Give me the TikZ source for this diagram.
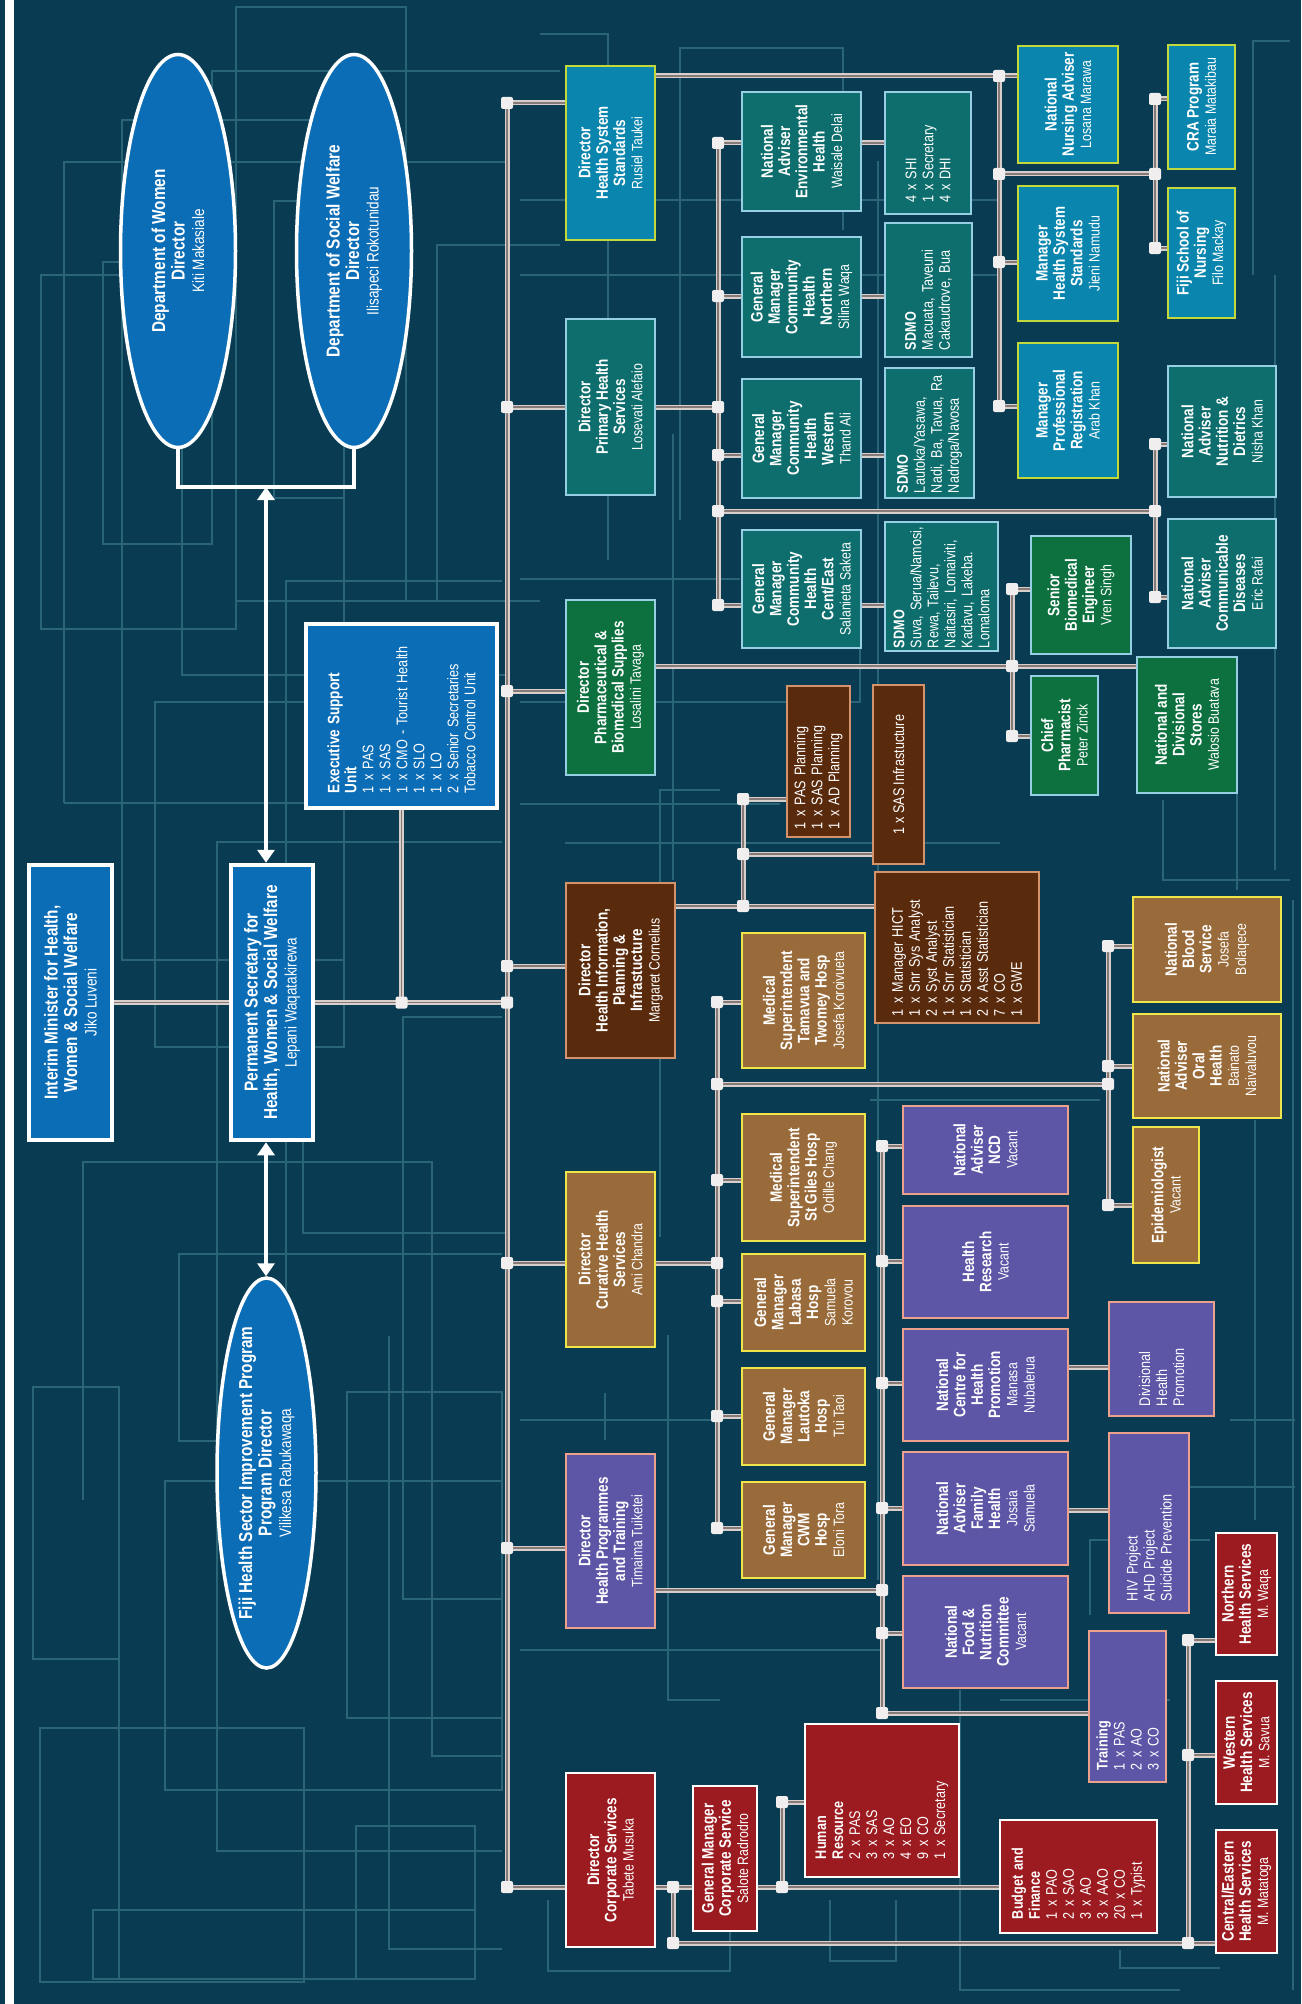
\documentclass[tikz,border=0pt]{standalone}
\usepackage{fontspec}
\setmainfont{Liberation Sans}[FakeStretch=0.82]
\usetikzlibrary{shapes.geometric,arrows.meta}
\pgfdeclarelayer{back}
\pgfdeclarelayer{wires}
\pgfsetlayers{back,wires,main}
\definecolor{bgc}{HTML}{093B52}
\definecolor{gridc}{HTML}{2A6477}
\definecolor{topF}{HTML}{0B6DB6}
\definecolor{hssF}{HTML}{0A86AE}
\definecolor{hssB}{HTML}{C3D83A}
\definecolor{phsF}{HTML}{0D6E6D}
\definecolor{phsB}{HTML}{96CFE3}
\definecolor{phaF}{HTML}{0C713F}
\definecolor{hipF}{HTML}{5A2A0C}
\definecolor{hipB}{HTML}{D4936A}
\definecolor{curF}{HTML}{9A6B3A}
\definecolor{curB}{HTML}{EDE54A}
\definecolor{hptF}{HTML}{5D55A6}
\definecolor{hptB}{HTML}{EDA08C}
\definecolor{corF}{HTML}{9C1B20}
\definecolor{connL}{HTML}{D8CFCB}
\definecolor{connD}{HTML}{857A78}
\definecolor{jnc}{HTML}{F0EEEE}
\newcommand\fbig{\fontsize{18.7}{19.5}\selectfont}
\newcommand\fmid{\fontsize{16.5}{17.3}\selectfont}
\newcommand\fnm{\fontsize{15}{17.3}\selectfont}
\newcommand\fls{\fontsize{15.4}{17}\selectfont}
\newcommand\who[1]{{\fnm\mdseries #1}}
\newcommand\whobig[1]{{\fontsize{16.5}{19.5}\selectfont\mdseries #1}}
\begin{document}
\begin{tikzpicture}[x=1pt,y=-1pt,
  bx/.style={rotate=90, draw, line width=2.6pt, inner sep=0pt, align=center, text=white, font=\fmid\bfseries},
  wh/.style 2 args={minimum height=#1, minimum width=#2},
  blu/.style={bx, fill=topF, draw=white, line width=4.5pt, font=\fbig\bfseries},
  hss/.style={bx, fill=hssF, draw=hssB},
  phs/.style={bx, fill=phsF, draw=phsB},
  pha/.style={bx, fill=phaF, draw=phsB},
  hip/.style={bx, fill=hipF, draw=hipB},
  cur/.style={bx, fill=curF, draw=curB},
  hpt/.style={bx, fill=hptF, draw=hptB},
  cor/.style={bx, fill=corF, draw=white},
  lst/.style={align=left, text width=#1, font=\fls},
  ell/.style={ellipse, draw=white, line width=3.5pt, fill=topF, inner sep=0pt},
  conn/.style={line width=5pt, draw=connL, postaction={draw=connD, line width=1.2pt}},
  arr/.style={draw=white, line width=4pt, >={Triangle[width=17pt,length=13pt]}, <->},
  brkt/.style={draw=white, line width=4pt},
  gl/.style={draw=gridc, line width=1.4pt},
  jn/.style={fill=jnc, rounded corners=2pt}
]
\useasboundingbox (0,0) rectangle (1301,2004);
\begin{pgfonlayer}{back}
\fill[bgc] (0,0) rectangle (1301,2004);
% decorative grid
\draw[gl] (41,275) rectangle (236,629);
\draw[gl] (103,262) rectangle (212,544);
\draw[gl] (64,803) -- (64,162) -- (506,162);
\draw[gl] (64,803) -- (306,803);
\draw[gl] (122,120) rectangle (344,960);
\draw[gl] (182,420) -- (182,675) -- (505,675);
\draw[gl] (212,400) -- (212,71) -- (560,71);
\draw[gl] (236,7) rectangle (406,601);
\draw[gl] (406,601) -- (540,601);
\draw[gl] (274,201) rectangle (344,498);
\draw[gl] (286,1297) -- (286,581) -- (502,581);
\draw[gl] (437,601) -- (437,245) -- (560,245);
\draw[gl] (155,702) rectangle (344,1047);
\draw[gl] (502,842) -- (217,842) -- (217,1851) -- (502,1851);
\draw[gl] (83,1500) -- (83,1162) -- (432,1162) -- (432,1756) -- (502,1756);
\draw[gl] (303,1140) -- (303,1233) -- (505,1233);
\draw[gl] (502,1017) -- (403,1017) -- (403,1599) -- (502,1599);
\draw[gl] (33,1387) rectangle (119,1659);
\draw[gl] (217,1441) -- (179,1441) -- (179,1254) -- (502,1254);
\draw[gl] (165,1481) rectangle (502,1790);
\draw[gl] (347,1392) rectangle (502,1718);
\draw[gl] (389,1336) -- (389,1949) -- (502,1949);
\draw[gl] (40,1728) rectangle (304,1982);
\draw[gl] (93,1910) rectangle (475,1979);
\draw[gl] (119,1387) -- (119,1979);
\draw[gl] (356,1826) rectangle (475,1979);
\draw[gl] (548,1900) -- (548,1971) -- (730,1971) -- (730,1900);
\draw[gl] (830,1900) -- (830,1961) -- (896,1961) -- (896,1900);
\draw[gl] (1120,1950) -- (1120,1968) -- (1220,1968);
\draw[gl] (540,34) -- (608,34) -- (608,560);
\draw[gl] (680,520) -- (680,48) -- (843,48) -- (843,230);
\draw[gl] (878,161) -- (878,1580);
\draw[gl] (520,200) -- (1000,200);
\draw[gl] (520,275) -- (1000,275);
\draw[gl] (673,434) -- (673,880);
\draw[gl] (520,579) -- (740,579);
\draw[gl] (520,702) -- (860,702) -- (860,560);
\draw[gl] (520,804) -- (780,804);
\draw[gl] (565,843) -- (1000,843);
\draw[gl] (660,1237) -- (660,790) -- (720,790);
\draw[gl] (668,1335) -- (668,1700) -- (720,1700);
\draw[gl] (605,1393) -- (605,1440);
\draw[gl] (1253,275) -- (1253,41) -- (1290,41);
\draw[gl] (1275,275) -- (1275,870);
\draw[gl] (1163,800) -- (1163,880) -- (1290,880);
\draw[gl] (1237,790) -- (1237,890);
\draw[gl] (1255,1120) -- (1255,1520);
\draw[gl] (1230,1420) -- (1295,1420);
\draw[gl] (1090,1615) -- (1090,1540) -- (1210,1540);
\draw[gl] (1110,1487) -- (1295,1487);
\draw[gl] (870,1100) -- (1100,1100);
\draw[gl] (1293,900) -- (1293,1990);
\draw[gl] (960,1690) -- (960,1990) -- (1180,1990);
\draw[gl] (520,1420) -- (720,1420);
\draw[gl] (520,1650) -- (880,1650);
\draw[gl] (1000,1700) -- (1170,1700);
% left white bar
\fill[white] (5,0) rectangle (14,2004);
\end{pgfonlayer}

% ---------- top blue group ----------
\node[ell, minimum width=115pt, minimum height=393pt] (women) at (178,251) {};
\node[rotate=90, align=center, text=white, font=\fbig\bfseries] (womenT) at (women.center) {Department of Women\\Director\\\whobig{Kiti Makasiale}};
\node[ell, minimum width=115pt, minimum height=393pt] (socwel) at (354,251) {};
\node[rotate=90, align=center, text=white, font=\fbig\bfseries] (socwelT) at (socwel.center) {Department of Social Welfare\\Director\\\whobig{Ilisapeci Rokotunidau}};
\node[ell, minimum width=99pt, minimum height=390pt] (fhsip) at (266.5,1473) {};
\node[rotate=90, align=center, text=white, font=\fbig\bfseries] (fhsipT) at (fhsip.center) {Fiji Health Sector Improvement Program\\Program Director\\\whobig{Vilikesa Rabukawaqa}};
\node[blu, wh={83pt}{275pt}] (interim) at (70.5,1002.5) {Interim Minister for Health,\\Women \& Social Welfare\\\whobig{Jiko Luveni}};
\node[blu, wh={82pt}{275pt}] (ps) at (272,1002.5) {Permanent Secretary for\\Health, Women \& Social Welfare\\\whobig{Lepani Waqatakirewa}};
\node[blu, wh={191pt}{184pt}, lst=154pt] (exec) at (401.5,716) {{\fmid\bfseries Executive Support}\\{\fmid\bfseries Unit}\\1 x PAS\\1 x SAS\\1 x CMO - Tourist Health\\1 x SLO\\1 x LO\\2 x Senior Secretaries\\Tobacco Control Unit};

% ---------- Health System Standards ----------
\node[hss, wh={89pt}{174pt}] (dhss) at (610.5,153) {Director\\Health System\\Standards\\\who{Rusiel Taukei}};
\node[hss, wh={100pt}{117pt}] (nna) at (1068,104.5) {National\\Nursing Adviser\\\who{Losana Marawa}};
\node[hss, wh={100pt}{135pt}] (mhss) at (1068,253.5) {Manager\\Health System\\Standards\\\who{Jieni Namudu}};
\node[hss, wh={100pt}{135pt}] (mpr) at (1068,410.5) {Manager\\Professional\\Registration\\\who{Arab Khan}};
\node[hss, wh={67pt}{124pt}] (cra) at (1201.5,107) {CRA Program\\\who{Maraia Matakibau}};
\node[hss, wh={67pt}{130pt}] (fsn) at (1201.5,253) {Fiji School of\\Nursing\\\who{Filo Mackay}};

% ---------- Primary Health ----------
\node[phs, wh={89pt}{176pt}] (dphs) at (610.5,407) {Director\\Primary Health\\Services\\\who{Losevati Alefaio}};
\node[phs, wh={119pt}{119pt}] (naeh) at (801.5,151.5) {National\\Adviser\\Environmental\\Health\\\who{Waisale Delai}};
\node[phs, wh={86pt}{122pt}, lst=100pt] (shi) at (928,153) {4 x SHI\\1 x Secretary\\4 x DHI};
\node[phs, wh={119pt}{120pt}] (gmn) at (801.5,297) {General\\Manager\\Community\\Health\\Northern\\\who{Silina Waqa}};
\node[phs, wh={87pt}{134pt}, lst=120pt] (sdmon) at (928.5,290) {\textbf{SDMO}\\Macuata, Taveuni\\Cakaudrove, Bua};
\node[phs, wh={89pt}{130pt}, lst=120pt] (sdmow) at (929.5,433) {\textbf{SDMO}\\Lautoka/Yasawa,\\Nadi, Ba, Tavua, Ra\\Nadroga/Navosa};
\node[phs, wh={119pt}{119pt}] (gmw) at (801.5,438.5) {General\\Manager\\Community\\Health\\Western\\\who{Thand Ali}};
\node[phs, wh={119pt}{118pt}] (gmc) at (801.5,589) {General\\Manager\\Community\\Health\\Cent/East\\\who{Salanieta Saketa}};
\node[phs, wh={113pt}{129pt}, lst=123pt] (sdmoc) at (941.5,586.5) {\textbf{SDMO}\\Suva, Serua/Namosi,\\Rewa, Tailevu,\\Naitasiri, Lomaiviti,\\Kadavu, Lakeba.\\Lomaloma};
\node[phs, wh={108pt}{131pt}] (nand) at (1222,431.5) {National\\Adviser\\Nutrition \&\\Dietrics\\\who{Nisha Khan}};
\node[phs, wh={108pt}{129pt}] (nacd) at (1222,583.5) {National\\Adviser\\Communicable\\Diseases\\\who{Eric Rafai}};

% ---------- Pharmaceutical ----------
\node[pha, wh={89pt}{175pt}] (dpharm) at (610.5,687.5) {Director\\Pharmaceutical \&\\Biomedical Supplies\\\who{Losalini Tavaga}};
\node[pha, wh={100pt}{118pt}] (sbe) at (1081,595) {Senior\\Biomedical\\Engineer\\\who{Vren Singh}};
\node[pha, wh={67pt}{119pt}] (cp) at (1064.5,735.5) {Chief\\Pharmacist\\\who{Peter Zinck}};
\node[pha, wh={100pt}{136pt}] (nds) at (1187,725) {National and\\Divisional\\Stores\\\who{Walosio Buatava}};

% ---------- Health Information ----------
\node[hip, wh={109pt}{175pt}] (dhipi) at (620.5,970.5) {Director\\Health Information,\\Planning \&\\Infrastucture\\\who{Margaret Cornelius}};
\node[hip, wh={63pt}{151pt}, lst=135pt] (pasp) at (818.5,761.5) {1 x PAS Planning\\1 x SAS Planning\\1 x AD Planning};
\node[hip, wh={51pt}{179pt}, font=\fls] (sasi) at (898.5,774.5) {1 x SAS Infrastucture};
\node[hip, wh={164pt}{151pt}, lst=137pt] (hict) at (957,947.5) {1 x Manager HICT\\1 x Snr Sys Analyst\\2 x Syst Analyst\\1 x Snr Statistician\\1 x Statistician\\2 x Asst Statistician\\7 x CO\\1 x GWE};

% ---------- Curative ----------
\node[cur, wh={89pt}{175pt}] (dcur) at (610.5,1259.5) {Director\\Curative Health\\Services\\\who{Ami Chandra}};
\node[cur, wh={123pt}{135pt}] (mstt) at (803.5,1000.5) {Medical\\Superintendent\\Tamavua and\\Twomey Hosp\\\who{Josefa Koroivueta}};
\node[cur, wh={123pt}{127pt}] (msg) at (803.5,1177.5) {Medical\\Superintendent\\St Giles Hosp\\\who{Odille Chang}};
\node[cur, wh={123pt}{97pt}] (gmlab) at (803.5,1302.5) {General\\Manager\\Labasa\\Hosp\\\who{Samuela}\\\who{Korovou}};
\node[cur, wh={123pt}{97pt}] (gmlau) at (803.5,1416.5) {General\\Manager\\Lautoka\\Hosp\\\who{Tui Taoi}};
\node[cur, wh={123pt}{96pt}] (gmcwm) at (803.5,1530) {General\\Manager\\CWM\\Hosp\\\who{Eloni Tora}};
\node[cur, wh={148pt}{105pt}] (nbs) at (1207,949.5) {National\\Blood\\Service\\\who{Josefa}\\\who{Bolaqece}};
\node[cur, wh={148pt}{104pt}] (naoh) at (1207,1066) {National\\Adviser\\Oral\\Health\\\who{Bainato}\\\who{Naivaluvou}};
\node[cur, wh={66pt}{136pt}] (epi) at (1166,1195) {Epidemiologist\\\who{Vacant}};

% ---------- Health Programmes ----------
\node[hpt, wh={89pt}{174pt}] (dhpt) at (610.5,1541) {Director\\Health Programmes\\and Training\\\who{Timaima Tuiketei}};
\node[hpt, wh={165pt}{88pt}] (ncd) at (985.5,1150) {National\\Adviser\\NCD\\\who{Vacant}};
\node[hpt, wh={165pt}{112pt}] (hresch) at (985.5,1262) {Health\\Research\\\who{Vacant}};
\node[hpt, wh={165pt}{112pt}] (nchp) at (985.5,1385) {National\\Centre for\\Health\\Promotion\\\who{Manasa}\\\who{Nubalerua}};
\node[hpt, wh={165pt}{113pt}] (nafh) at (985.5,1508.5) {National\\Adviser\\Family\\Health\\\who{Josaia}\\\who{Samuela}};
\node[hpt, wh={165pt}{112pt}] (nfnc) at (985.5,1632) {National\\Food \&\\Nutrition\\Committee\\\who{Vacant}};
\node[hpt, wh={105pt}{114pt}, lst=94pt] (dhp) at (1161.5,1359) {Divisional\\Health\\Promotion};
\node[hpt, wh={80pt}{180pt}, lst=156pt] (hiv) at (1149,1523) {HIV Project\\AHD Project\\Suicide Prevention};
\node[hpt, wh={77pt}{151pt}, lst=127pt] (train) at (1127.5,1706.5) {\textbf{Training}\\1 x PAS\\2 x AO\\3 x CO};

% ---------- Corporate ----------
\node[cor, wh={89pt}{174pt}] (dcorp) at (610.5,1860) {Director\\Corporate Services\\\who{Tabete Musuka}};
\node[cor, wh={64pt}{145pt}] (gmcorp) at (725,1858.5) {General Manager\\Corporate Service\\\who{Salote Radrodro}};
\node[cor, wh={154pt}{153pt}, lst=117pt] (hrbox) at (882,1800.5) {\textbf{Human}\\\textbf{Resource}\\2 x PAS\\3 x SAS\\3 x AO\\4 x EO\\9 x CO\\1 x Secretary};
\node[cor, wh={157pt}{113pt}, lst=85pt] (budget) at (1078.5,1876.5) {\textbf{Budget and}\\\textbf{Finance}\\1 x PAO\\2 x SAO\\3 x AO\\3 x AAO\\20 x CO\\1 x Typist};
\node[cor, wh={61pt}{122pt}] (nhs) at (1246.5,1594) {Northern\\Health Services\\\who{M. Waqa}};
\node[cor, wh={61pt}{123pt}] (whs) at (1246.5,1742.5) {Western\\Health Services\\\who{M. Savua}};
\node[cor, wh={61pt}{123pt}] (cehs) at (1246.5,1891.5) {Central/Eastern\\Health Services\\\who{M. Matatoga}};

% ---------- junction coordinates ----------
\coordinate (sp1) at (507,103);
\coordinate (sp2) at (507,407);
\coordinate (sp3) at (507,691);
\coordinate (sp4) at (507,966);
\coordinate (sp5) at (507,1002.5);
\coordinate (sp6) at (507,1263);
\coordinate (sp7) at (507,1548);
\coordinate (sp8) at (507,1887);
\coordinate (ex1) at (401.5,1002.5);
\coordinate (h1) at (999,76);
\coordinate (h2) at (999,174);
\coordinate (h3) at (999,262);
\coordinate (h4) at (999,406);
\coordinate (h5) at (1155,99);
\coordinate (h6) at (1155,174);
\coordinate (h7) at (1155,248);
\coordinate (p1) at (718,143);
\coordinate (p2) at (718,296);
\coordinate (p3) at (718,407);
\coordinate (p4) at (718,455);
\coordinate (p5) at (718,511);
\coordinate (p6) at (718,605);
\coordinate (p7) at (1155,444);
\coordinate (p8) at (1155,511);
\coordinate (p9) at (1155,597);
\coordinate (f1) at (1012,589);
\coordinate (f2) at (1012,666);
\coordinate (f3) at (1012,736);
\coordinate (i1) at (743,799);
\coordinate (i2) at (743,854);
\coordinate (i3) at (743,906);
\coordinate (c1) at (717,1002);
\coordinate (c2) at (717,1084);
\coordinate (c3) at (717,1180);
\coordinate (c4) at (717,1263);
\coordinate (c5) at (717,1301);
\coordinate (c6) at (717,1416);
\coordinate (c7) at (717,1528);
\coordinate (c8) at (1108,946);
\coordinate (c9) at (1108,1066);
\coordinate (c10) at (1108,1084);
\coordinate (c11) at (1108,1205);
\coordinate (t1) at (882,1146);
\coordinate (t2) at (882,1261);
\coordinate (t3) at (882,1383);
\coordinate (t4) at (882,1508);
\coordinate (t5) at (882,1590);
\coordinate (t6) at (882,1633);
\coordinate (t7) at (882,1713);
\coordinate (t8) at (1068,1367);
\coordinate (t9) at (1068,1510);
\coordinate (k1) at (673,1887);
\coordinate (k2) at (673,1943);
\coordinate (k3) at (782,1802);
\coordinate (k4) at (782,1887);
\coordinate (k5) at (1188,1640);
\coordinate (k6) at (1188,1755);
\coordinate (k7) at (1188,1943);
\coordinate (brk) at (266,487);

% ---------- connectors ----------
\begin{pgfonlayer}{wires}
\draw[conn] (interim.south) -- (ps.north);
\draw[conn] (ps.south) -- (sp5);
\draw[conn] (exec.west) -- (ex1);
\draw[conn] (sp1) -- (sp8);
\draw[conn] (sp1) -- (dhss.north |- sp1);
\draw[conn] (sp2) -- (dphs.north |- sp2);
\draw[conn] (sp3) -- (dpharm.north |- sp3);
\draw[conn] (sp4) -- (dhipi.north |- sp4);
\draw[conn] (sp6) -- (dcur.north |- sp6);
\draw[conn] (sp7) -- (dhpt.north |- sp7);
\draw[conn] (sp8) -- (dcorp.north |- sp8);
% HSS
\draw[conn] (dhss.south |- h1) -- (h1) -- (nna.north |- h1);
\draw[conn] (h1) -- (h4);
\draw[conn] (h3) -- (mhss.north |- h3);
\draw[conn] (h4) -- (mpr.north |- h4);
\draw[conn] (h2) -- (h6);
\draw[conn] (h5) -- (h7);
\draw[conn] (h5) -- (cra.north |- h5);
\draw[conn] (h7) -- (fsn.north |- h7);
% PHS
\draw[conn] (dphs.south |- p3) -- (p3);
\draw[conn] (p1) -- (p6);
\draw[conn] (p1) -- (naeh.north |- p1);
\draw[conn] (naeh.south |- p1) -- (shi.north |- p1);
\draw[conn] (p2) -- (gmn.north |- p2);
\draw[conn] (gmn.south |- p2) -- (sdmon.north |- p2);
\draw[conn] (p4) -- (gmw.north |- p4);
\draw[conn] (gmw.south |- p4) -- (sdmow.north |- p4);
\draw[conn] (p6) -- (gmc.north |- p6);
\draw[conn] (gmc.south |- p6) -- (sdmoc.north |- p6);
\draw[conn] (p5) -- (p8);
\draw[conn] (p7) -- (p9);
\draw[conn] (p7) -- (nand.north |- p7);
\draw[conn] (p9) -- (nacd.north |- p9);
% Pharm
\draw[conn] (dpharm.south |- f2) -- (nds.north |- f2);
\draw[conn] (f1) -- (f3);
\draw[conn] (f1) -- (sbe.north |- f1);
\draw[conn] (f3) -- (cp.north |- f3);
% HIPI
\draw[conn] (dhipi.south |- i3) -- (hict.north |- i3);
\draw[conn] (i1) -- (i3);
\draw[conn] (i1) -- (pasp.north |- i1);
\draw[conn] (i2) -- (sasi.north |- i2);
% Curative
\draw[conn] (dcur.south |- c4) -- (c4);
\draw[conn] (c1) -- (c7);
\draw[conn] (c1) -- (mstt.north |- c1);
\draw[conn] (c3) -- (msg.north |- c3);
\draw[conn] (c5) -- (gmlab.north |- c5);
\draw[conn] (c6) -- (gmlau.north |- c6);
\draw[conn] (c7) -- (gmcwm.north |- c7);
\draw[conn] (c2) -- (c10);
\draw[conn] (c8) -- (c11);
\draw[conn] (c8) -- (nbs.north |- c8);
\draw[conn] (c9) -- (naoh.north |- c9);
\draw[conn] (c11) -- (epi.north |- c11);
% HPT
\draw[conn] (dhpt.south |- t5) -- (t5);
\draw[conn] (t1) -- (t7);
\draw[conn] (t1) -- (ncd.north |- t1);
\draw[conn] (t2) -- (hresch.north |- t2);
\draw[conn] (t3) -- (nchp.north |- t3);
\draw[conn] (t4) -- (nafh.north |- t4);
\draw[conn] (t6) -- (nfnc.north |- t6);
\draw[conn] (t7) -- (train.north |- t7);
\draw[conn] (nchp.south |- t8) -- (dhp.north |- t8);
\draw[conn] (nafh.south |- t9) -- (hiv.north |- t9);
% Corporate
\draw[conn] (dcorp.south |- k1) -- (gmcorp.north |- k1);
\draw[conn] (k1) -- (k2) -- (k7);
\draw[conn] (gmcorp.south |- k4) -- (budget.north |- k4);
\draw[conn] (k3) -- (k4);
\draw[conn] (k3) -- (hrbox.north |- k3);
\draw[conn] (k5) -- (k7);
\draw[conn] (k5) -- (nhs.north |- k5);
\draw[conn] (k6) -- (whs.north |- k6);
\draw[conn] (k7) -- (cehs.north |- k7);
\end{pgfonlayer}

% bracket and arrows
\draw[brkt] (women.south) |- (brk) -| (socwel.south);
\draw[arr] (brk) -- (ps.east -| brk);
\draw[arr] (ps.west -| brk) -- (fhsip.north -| brk);

% junction markers
\foreach \p in {sp1,sp2,sp3,sp4,sp5,sp6,sp7,sp8,ex1,h1,h2,h3,h4,h5,h6,h7,p1,p2,p3,p4,p5,p6,p7,p8,p9,f1,f2,f3,i1,i2,i3,c1,c2,c3,c4,c5,c6,c7,c8,c9,c10,c11,t1,t2,t3,t4,t5,t6,t7,k1,k2,k3,k4,k5,k6,k7}
  \fill[jn] (\p) ++(-6,-6) rectangle ++(12,12);
\end{tikzpicture}
\end{document}
